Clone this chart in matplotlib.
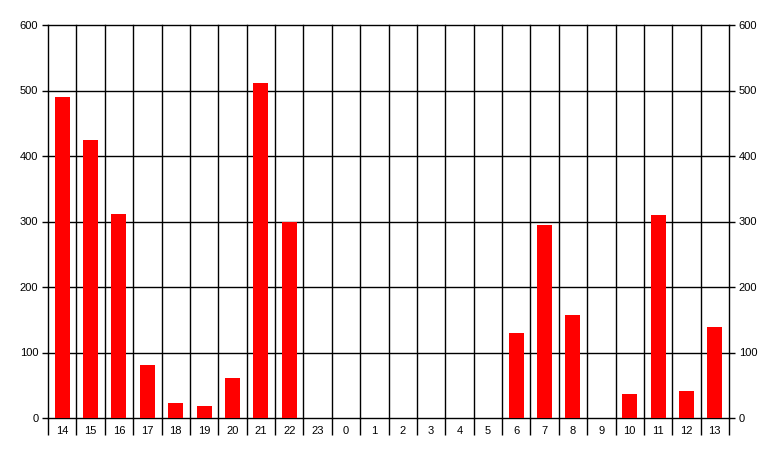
import numpy as np
import matplotlib.pyplot as plt

hours = ['14', '15', '16', '17', '18', '19', '20', '21', '22', '23', '0', '1',
         '2', '3', '4', '5', '6', '7', '8', '9', '10', '11', '12', '13']
counts = [490, 424, 311, 81, 23, 18, 61, 511, 299, 0, 0, 0,
          0, 0, 0, 0, 130, 295, 157, 0, 37, 310, 41, 139]
yticks = [0, 100, 200, 300, 400, 500, 600]

plt.rcParams['font.family'] = ['Liberation Sans', 'DejaVu Sans']

fig = plt.figure(figsize=(7.77, 4.57), dpi=100)
ax = fig.add_axes([48 / 777, 1 - 418 / 457, 681 / 777, 393 / 457])

x = np.arange(len(hours))
ax.bar(x, counts, width=0.53, color='#ff0000', linewidth=0, zorder=3)

ax.set_xlim(-0.5, len(hours) - 0.5)
ax.set_ylim(0, 600)

# black grid at every category boundary and every 100
for b in np.arange(-0.5, len(hours) + 0.5, 1):
    ax.axvline(b, color='black', linewidth=1.0, zorder=1, clip_on=False)
for yv in yticks:
    ax.axhline(yv, color='black', linewidth=1.0, zorder=1, clip_on=False)

for s in ax.spines.values():
    s.set_visible(False)

ax.set_xticks(x)
ax.set_xticklabels(hours, fontsize=8)
ax.tick_params(axis='x', length=0, pad=6)
# boundary ticks below the axis
ax.set_xticks(np.arange(-0.5, len(hours) + 0.5, 1), minor=True)
ax.tick_params(axis='x', which='minor', length=12, width=1.0, color='black', direction='out')

ax.set_yticks(yticks)
ax.set_yticklabels([str(v) for v in yticks], fontsize=8)
ax.tick_params(axis='y', length=4, width=1.0, direction='out', pad=3,
               left=True, right=True, labelleft=True, labelright=True)

fig.savefig('out.png', dpi=100, facecolor='white')
